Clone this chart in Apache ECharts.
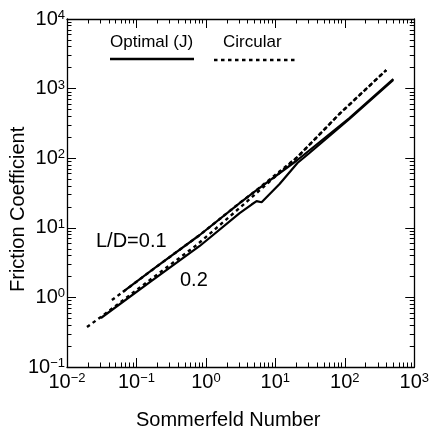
<!DOCTYPE html>
<html><head><meta charset="utf-8">
<script src="https://cdn.jsdelivr.net/npm/echarts@6/dist/echarts.min.js"></script>
<style>html,body{margin:0;padding:0;background:#fff}#c{width:432px;height:432px}</style>
</head><body><div id="c"></div>
<script>
// ---- data (Sommerfeld number, friction coefficient) ----
const optimalLD01 = [[0.0638,1.196],[0.184,2.65],[0.815,7.88],[3.06,22.7],[5.37,34.9],[20.8,94.2],[116.5,378],[499,1374]];
const optimalLD02 = [[0.0308,0.506],[0.156,1.66],[0.815,5.48],[3.06,16.3],[4.55,21.6],[5.37,24.2],[6.34,23.3],[11.5,42.6],[20.8,85.3],[31.0,118.8],[116.5,366],[499,1329]];
const circularLD01 = [[0.0443,0.918],[0.0638,1.196],[0.184,2.65],[0.815,7.88],[3.06,22.7],[5.37,34.9],[20.8,104],[83.6,432],[396,1850]];
const circularLD02 = [[0.0194,0.376],[0.0308,0.523],[0.156,1.78],[0.738,5.66],[3.06,19.3],[5.37,31.6],[20.8,104],[83.6,432],[396,1850]];
const xMajor = [0.01,0.1,1,10,100,1000];
const yMajor = [0.1,1,10,100,1000,10000];
const minorMult = [2,3,4,5,6,7,8,9];
const xMinor = xMajor.slice(0,-1).flatMap(d => minorMult.map(m => +(d*m).toPrecision(3)));
const yMinor = yMajor.slice(0,-1).flatMap(d => minorMult.map(m => +(d*m).toPrecision(3)));
const xTitle = 'Sommerfeld Number';
const yTitle = 'Friction Coefficient';
const legendNames = ['Optimal (J)', 'Circular'];
const annotations = ['L/D=0.1', '0.2'];

const FONT = "'Liberation Sans', Arial, Helvetica, sans-serif";
const chart = echarts.init(document.getElementById('c'), null, {renderer:'canvas'});

function pow10Label(v){
  const e = Math.round(Math.log10(v));
  return '{b|10}{s|' + (e < 0 ? '\u2212' + (-e) : e) + '}';
}
const rich = {
  b:{fontSize:20, fontFamily:FONT, color:'#000', verticalAlign:'bottom', lineHeight:20},
  s:{fontSize:13, fontFamily:FONT, color:'#000', verticalAlign:'bottom', lineHeight:13, padding:[0,0,7,0]}
};
function axis(kind, pos, major, label){
  const isX = kind === 'x';
  const vals = major ? (isX ? xMajor : yMajor) : (isX ? xMinor : yMinor);
  return {
    type:'log', logBase:10, position:pos,
    min: isX ? xMajor[0] : yMajor[0], max: isX ? xMajor[xMajor.length-1] : yMajor[yMajor.length-1],
    axisLine:{show:major, lineStyle:{color:'#000', width:1.3}},
    axisTick:{show:true, inside:true, length: major ? 9 : 4.5, customValues: vals, lineStyle:{color:'#000', width:1}},
    axisLabel: label ? {show:true, customValues: vals, formatter: pow10Label, rich: rich, margin: isX ? 5 : 2, color:'#000'} : {show:false},
    splitLine:{show:false}, minorTick:{show:false}, minorSplitLine:{show:false}
  };
}
const dash = [3.5, 3.5];
function lineSeries(data, dashed, z){
  return {type:'line', data:data, symbol:'none', showSymbol:false, smooth:false, z:z,
    lineStyle:{color:'#000', width: dashed ? 2.4 : 2.2, type: dashed ? dash : 'solid'},
    emphasis:{disabled:true}, animation:false};
}
const option = {
  backgroundColor:'#fff',
  animation:false,
  grid:{left:67, right:17, top:19, bottom:65, containLabel:false},
  xAxis:[axis('x','bottom',true,true), axis('x','bottom',false,false), axis('x','top',true,false), axis('x','top',false,false)],
  yAxis:[axis('y','left',true,true), axis('y','left',false,false), axis('y','right',true,false), axis('y','right',false,false)],
  series:[
    lineSeries(circularLD02, true, 2),
    lineSeries(circularLD01, true, 2),
    lineSeries(optimalLD02, false, 3),
    lineSeries(optimalLD01, false, 3)
  ],
  graphic:[
    {type:'text', left:136, top:410, style:{text:xTitle, font:'20px '+FONT, fill:'#000'}},
    {type:'text', rotation:Math.PI/2, x:8, y:292, style:{text:yTitle, font:'20px '+FONT, fill:'#000', textAlign:'left', textVerticalAlign:'top'}},
    {type:'text', x:110, y:34, style:{text:legendNames[0], font:'17px '+FONT, fill:'#000'}},
    {type:'line', shape:{x1:110, y1:59, x2:194, y2:59}, style:{stroke:'#000', lineWidth:2.6}},
    {type:'text', x:223, y:34, style:{text:legendNames[1], font:'17px '+FONT, fill:'#000'}},
    {type:'line', shape:{x1:214, y1:60, x2:297, y2:60}, style:{stroke:'#000', lineWidth:2.6, lineDash:dash}},
    {type:'text', x:96, y:231, style:{text:annotations[0], font:'20px '+FONT, fill:'#000'}},
    {type:'text', x:180, y:270, style:{text:annotations[1], font:'20px '+FONT, fill:'#000'}}
  ]
};
chart.setOption(option);
</script></body></html>
